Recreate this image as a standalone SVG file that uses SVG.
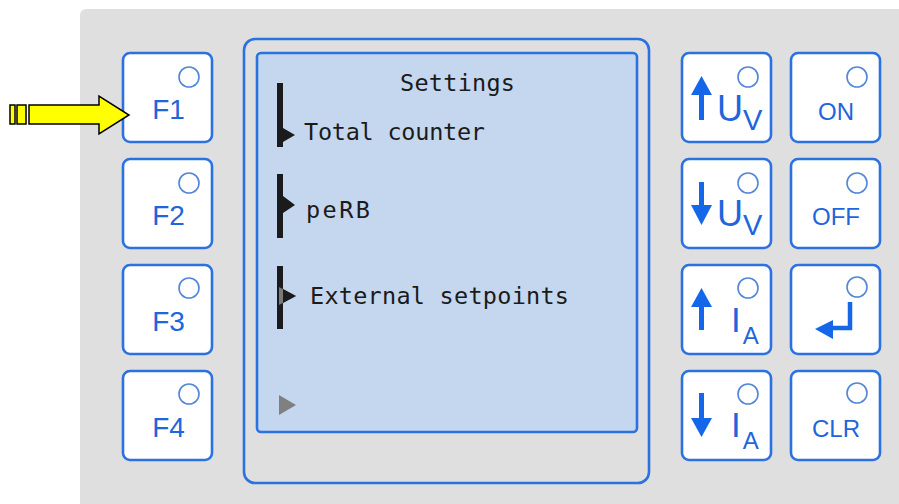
<svg xmlns="http://www.w3.org/2000/svg" width="899" height="504" viewBox="0 0 899 504">
<style>
.btn{fill:#ffffff;stroke:#2b71e0;stroke-width:2.6}
.led{fill:none;stroke:#5385d8;stroke-width:1.6}
.lbl{font-family:"Liberation Sans",Arial,sans-serif;fill:#1f65dc}
.lcd{font-family:"DejaVu Sans Mono",monospace;font-size:23.5px;fill:#1b1b1b}
.sym{fill:#1567ea}
.bar{fill:#1b1b1b}
</style>
<rect x="80" y="9" width="830" height="500" rx="6" fill="#dfdfdf"/>

<g id="screen">
<rect x="244" y="39" width="405" height="444" rx="11" fill="#dfdfdf" stroke="#2b71e0" stroke-width="2.6"/>
<rect x="257" y="53" width="380" height="379" rx="4" fill="#c5d7ee" stroke="#2b71e0" stroke-width="2.6"/>
<text class="lcd" x="400" y="91" textLength="115" lengthAdjust="spacing">Settings</text>
<rect class="bar" x="277" y="83" width="6" height="64"/>
<polygon class="bar" points="283,128 295,135 283,142"/>
<text class="lcd" x="304" y="140" textLength="181" lengthAdjust="spacing">Total counter</text>
<rect class="bar" x="277" y="174" width="6" height="64"/>
<polygon class="bar" points="283,196 295,205 283,213"/>
<text class="lcd" x="306" y="218" font-size="25px" textLength="64" lengthAdjust="spacing">peRB</text>
<rect class="bar" x="277" y="266" width="6" height="63"/>
<polygon points="279,287 296,296 279,305" fill="#7a7a7a"/>
<polygon class="bar" points="283,289 296,296 283,303"/>
<text class="lcd" x="310" y="304" textLength="259" lengthAdjust="spacing">External setpoints</text>
<polygon points="279,395 296,405 279,415" fill="#808080"/>
</g>

<g id="F1" transform="translate(123,53)">
<rect class="btn" width="89" height="89" rx="7"/><circle class="led" cx="66" cy="24" r="10"/>
<text class="lbl" x="45.5" y="66" font-size="28" text-anchor="middle">F1</text>
</g>
<g id="F2" transform="translate(123,159)">
<rect class="btn" width="89" height="89" rx="7"/><circle class="led" cx="66" cy="24" r="10"/>
<text class="lbl" x="45.5" y="66" font-size="28" text-anchor="middle">F2</text>
</g>
<g id="F3" transform="translate(123,265)">
<rect class="btn" width="89" height="89" rx="7"/><circle class="led" cx="66" cy="23" r="10"/>
<text class="lbl" x="45.5" y="66" font-size="28" text-anchor="middle">F3</text>
</g>
<g id="F4" transform="translate(123,371)">
<rect class="btn" width="89" height="89" rx="7"/><circle class="led" cx="66" cy="23" r="10"/>
<text class="lbl" x="45.5" y="66" font-size="28" text-anchor="middle">F4</text>
</g>

<g id="UV_up" transform="translate(682,53)">
<rect class="btn" width="89" height="89" rx="7"/><circle class="led" cx="66" cy="24" r="10"/>
<polygon class="sym" points="19.5,23 30,42 9,42"/><rect class="sym" x="17" y="40" width="5" height="27"/>
<text class="lbl" x="35" y="68" font-size="36">U<tspan dy="9" font-size="29">V</tspan></text>
</g>
<g id="UV_down" transform="translate(682,159)">
<rect class="btn" width="89" height="89" rx="7"/><circle class="led" cx="66" cy="24" r="10"/>
<rect class="sym" x="17" y="23" width="5" height="26"/><polygon class="sym" points="9,46 30,46 19.5,66"/>
<text class="lbl" x="35" y="67" font-size="36">U<tspan dy="9" font-size="29">V</tspan></text>
</g>
<g id="IA_up" transform="translate(682,265)">
<rect class="btn" width="89" height="89" rx="7"/><circle class="led" cx="66" cy="23" r="10"/>
<polygon class="sym" points="19.5,23 30,42 9,42"/><rect class="sym" x="17" y="40" width="5" height="25"/>
<text class="lbl" x="49" y="67" font-size="35">I<tspan dx="2" dy="12" font-size="24">A</tspan></text>
</g>
<g id="IA_down" transform="translate(682,371)">
<rect class="btn" width="89" height="89" rx="7"/><circle class="led" cx="66" cy="23" r="10"/>
<rect class="sym" x="17" y="22" width="5" height="27"/><polygon class="sym" points="9,47 30,47 19.5,66"/>
<text class="lbl" x="49" y="66" font-size="35">I<tspan dx="2" dy="12" font-size="24">A</tspan></text>
</g>

<g id="ON" transform="translate(791,53)">
<rect class="btn" width="89" height="89" rx="7"/><circle class="led" cx="66" cy="24" r="10"/>
<text class="lbl" x="45" y="67" font-size="24" text-anchor="middle">ON</text>
</g>
<g id="OFF" transform="translate(791,159)">
<rect class="btn" width="89" height="89" rx="7"/><circle class="led" cx="66" cy="24" r="10"/>
<text class="lbl" x="45" y="66" font-size="24" text-anchor="middle">OFF</text>
</g>
<g id="ENTER" transform="translate(791,265)">
<rect class="btn" width="89" height="89" rx="7"/><circle class="led" cx="66" cy="22" r="10"/>
<path d="M59,37 V63 H40" fill="none" stroke="#1567ea" stroke-width="4.5"/>
<polygon class="sym" points="24,64 42,55 42,74"/>
</g>
<g id="CLR" transform="translate(791,371)">
<rect class="btn" width="89" height="89" rx="7"/><circle class="led" cx="66" cy="22" r="10"/>
<text class="lbl" x="45" y="66" font-size="24" text-anchor="middle">CLR</text>
</g>

<g id="connectors">
<rect x="10" y="105" width="5" height="19" fill="#ffff00" stroke="#000" stroke-width="1.5"/>
<rect x="17" y="105" width="9" height="19" fill="#ffff00" stroke="#000" stroke-width="1.5"/>
<polygon points="29,105 99,105 99,96 129,115 99,134 99,124 29,124" fill="#ffff00" stroke="#000" stroke-width="1.5" stroke-linejoin="miter"/>
</g>
</svg>
